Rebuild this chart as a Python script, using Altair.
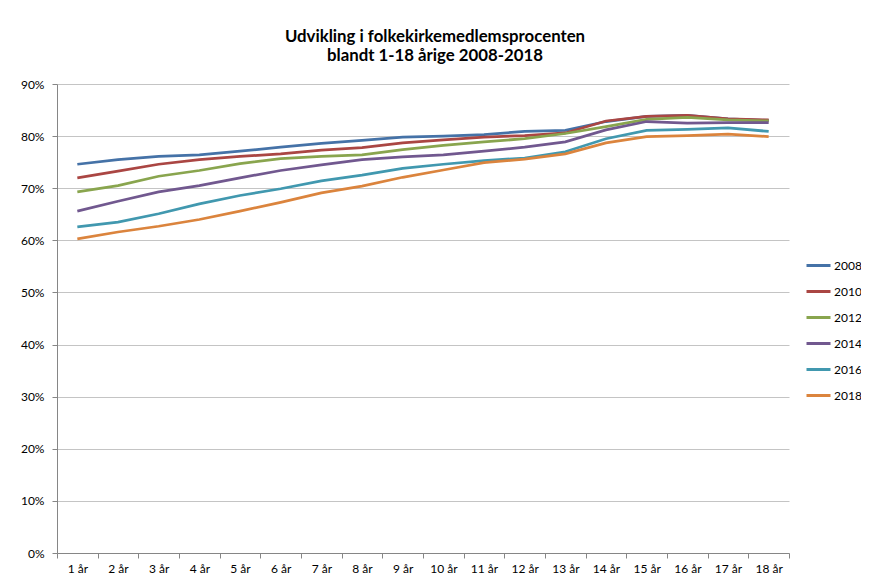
import altair as alt
import pandas as pd

ages = ["1 år", "2 år", "3 år", "4 år", "5 år", "6 år", "7 år", "8 år", "9 år",
        "10 år", "11 år", "12 år", "13 år", "14 år", "15 år", "16 år", "17 år", "18 år"]
years = ["2008", "2010", "2012", "2014", "2016", "2018"]
colors = ["#4572A7", "#AA4643", "#89A54E", "#71588F", "#4198AF", "#DB843D"]

s2008 = [74.6, 75.5, 76.1, 76.4, 77.1, 77.9, 78.6, 79.2, 79.8, 80.0, 80.3, 80.9, 81.1, 82.8, 83.8, 84.0, 83.3, 83.0]
s2010 = [72.0, 73.3, 74.6, 75.5, 76.1, 76.6, 77.3, 77.8, 78.7, 79.3, 79.8, 80.1, 80.6, 82.9, 83.8, 84.0, 83.3, 83.1]
s2012 = [69.3, 70.5, 72.3, 73.4, 74.7, 75.7, 76.1, 76.4, 77.4, 78.2, 78.9, 79.5, 80.5, 81.8, 83.2, 83.6, 83.1, 82.9]
s2014 = [65.6, 67.5, 69.3, 70.5, 72.0, 73.4, 74.5, 75.5, 76.0, 76.4, 77.1, 77.9, 78.9, 81.2, 82.8, 82.5, 82.6, 82.6]
s2016 = [62.6, 63.5, 65.1, 67.0, 68.6, 69.9, 71.4, 72.5, 73.8, 74.6, 75.3, 75.8, 77.0, 79.5, 81.1, 81.3, 81.6, 80.9]
s2018 = [60.3, 61.6, 62.7, 64.0, 65.6, 67.3, 69.1, 70.4, 72.1, 73.5, 74.9, 75.6, 76.6, 78.7, 79.9, 80.1, 80.4, 79.9]

y_ticks = [0, 0.1, 0.2, 0.3, 0.4, 0.5, 0.6, 0.7, 0.8, 0.9]
title_lines = ["Udvikling i folkekirkemedlemsprocenten", "blandt 1-18 årige 2008-2018"]

rows = []
for yr, vals in zip(years, [s2008, s2010, s2012, s2014, s2016, s2018]):
    for a, v in zip(ages, vals):
        rows.append({"alder": a, "aar": yr, "andel": v / 100})
df = pd.DataFrame(rows)

FONT = "Lato"
AXIS_GRAY = "#868686"

chart = alt.Chart(df).mark_line(strokeWidth=2.75).encode(
    x=alt.X(
        "alder:N", sort=ages, bandPosition=0.5,
        scale=alt.Scale(type="band", paddingInner=0, paddingOuter=0),
        axis=alt.Axis(title=None, labelAngle=0, tickBand="extent", ticks=True, tickSize=5,
                      tickColor=AXIS_GRAY, domainColor=AXIS_GRAY, labelPadding=5,
                      labelFontSize=12, labelColor="#000000", labelFont=FONT, grid=False),
    ),
    y=alt.Y(
        "andel:Q", scale=alt.Scale(domain=[0, 0.9], nice=False, zero=True),
        axis=alt.Axis(title=None, values=y_ticks, format=".0%", tickSize=5, tickColor=AXIS_GRAY,
                      domainColor=AXIS_GRAY, gridColor="#c4c4c4", labelPadding=8,
                      labelFontSize=12, labelColor="#000000", labelFont=FONT),
    ),
    color=alt.Color(
        "aar:N", scale=alt.Scale(domain=years, range=colors),
        legend=alt.Legend(title=None, orient="none", legendX=748, legendY=168, symbolType="stroke",
                          symbolSize=576, symbolStrokeWidth=3, labelFontSize=12, labelFont=FONT,
                          labelColor="#000000", rowPadding=6, labelOffset=2, padding=0),
    ),
).properties(
    width=732, height=469, autosize="none",
    padding={"left": 49, "top": 76, "right": 72, "bottom": 22},
    title=alt.Title(title_lines, fontSize=16.8, font=FONT, fontWeight="bold", anchor="middle",
                    frame="group", dx=12, offset=13, lineHeight=19.5, color="#000000"),
).configure_view(stroke="transparent")

chart.save("out.html", embed_options={"renderer": "svg", "actions": False})
